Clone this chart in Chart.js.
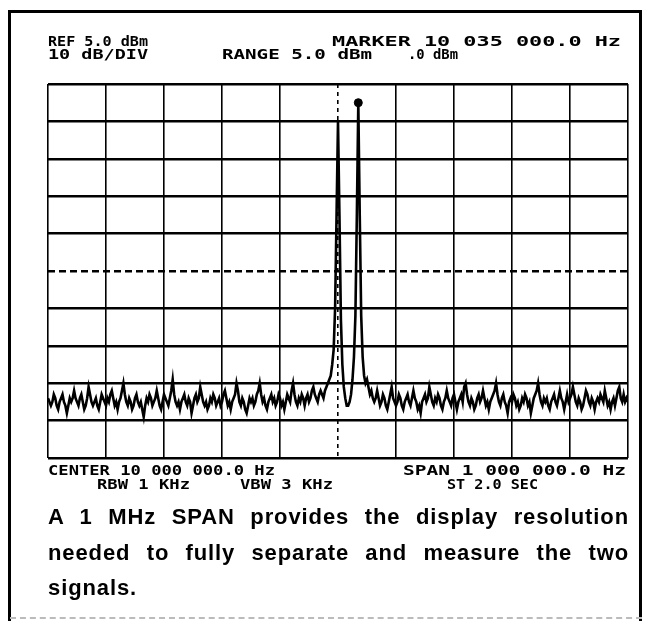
<!DOCTYPE html>
<html><head><meta charset="utf-8">
<script src="https://cdn.jsdelivr.net/npm/chart.js@4/dist/chart.umd.min.js"></script>
<style>
html,body{margin:0;padding:0;background:#fff;}
#wrap{position:relative;width:652px;height:621px;overflow:hidden;background:#fff;}
#frame{position:absolute;left:8px;top:10px;width:628px;height:640px;border-left:3px solid #000;border-top:3px solid #000;border-right:3px solid #000;}
#bottomline{position:absolute;left:10px;top:617px;width:632px;border-top:2px dashed #bbb;}
canvas{position:absolute;left:0;top:0;}
.lbl{position:absolute;font-family:"DejaVu Sans Mono";font-weight:bold;font-size:14px;line-height:14px;white-space:pre;transform-origin:0 0;color:#000;}
.cap{position:absolute;left:48px;width:581px;font-family:"Liberation Sans";font-weight:bold;font-size:22px;line-height:26px;letter-spacing:0.9px;color:#000;text-align:justify;text-align-last:justify;}
</style></head>
<body><div id="wrap">
<div id="frame"></div><div id="bottomline"></div>
<canvas id="c" width="652" height="621"></canvas>
<div class="lbl" data-w="100" style="left:48px;top:34px">REF 5.0 dBm</div>
<div class="lbl" data-w="100" style="left:48px;top:47px">10 dB/DIV</div>
<div class="lbl" data-w="289" style="left:332px;top:34px">MARKER 10 035 000.0 Hz</div>
<div class="lbl" data-w="150" style="left:222px;top:47px">RANGE 5.0 dBm</div>
<div class="lbl" data-w="50" style="left:408px;top:47px">.0 dBm</div>
<div class="lbl" data-w="227" style="left:48px;top:463px">CENTER 10 000 000.0 Hz</div>
<div class="lbl" data-w="223" style="left:403px;top:463px">SPAN 1 000 000.0 Hz</div>
<div class="lbl" data-w="93" style="left:97px;top:477px">RBW 1 KHz</div>
<div class="lbl" data-w="93" style="left:240px;top:477px">VBW 3 KHz</div>
<div class="lbl" data-w="91" style="left:447px;top:477px">ST 2.0 SEC</div>
<div class="cap" style="top:504px">A 1 MHz SPAN provides the display resolution</div>
<div class="cap" style="top:540px">needed to fully separate and measure the two</div>
<div class="cap" style="top:575px;text-align:left;text-align-last:left">signals.</div>
</div>
<script>
// ---- data ----
const startFreq = 9500000;
const stopFreq = 10500000;
const centerFreq = 10000000;
const freqGrid = [9500000,9600000,9700000,9800000,9900000,10000000,10100000,10200000,10300000,10400000,10500000];
const levelGrid = [-95,-85,-75,-65,-55,-45,-35,-25,-15,-5,5];
const midLevel = -45;
const markerFreq = 10035000;
const markerLevel = 0;
// 401 sweep points, dBm
const traceLevels = [
-79,-80,-81,-80,-78,-79,-81,-82,-80,-79,-78,-80,-81,-83,-81,-79,-80,-79,-77,-79,
-80,-81,-79,-78,-80,-82,-81,-79,-76,-78,-80,-81,-80,-79,-81,-82,-80,-78,-79,-80,
-81,-79,-80,-78,-77,-79,-81,-80,-82,-80,-79,-77,-75,-78,-80,-81,-79,-80,-82,-81,
-79,-78,-80,-81,-80,-82,-84,-81,-79,-80,-78,-79,-81,-80,-79,-77,-79,-81,-82,-80,
-78,-79,-80,-81,-79,-77,-74,-78,-80,-81,-80,-82,-80,-79,-78,-80,-81,-79,-80,-83,
-81,-79,-78,-80,-79,-76,-78,-80,-81,-80,-82,-81,-79,-80,-78,-79,-81,-80,-79,-81,
-80,-78,-77,-79,-81,-80,-82,-80,-79,-78,-75,-77,-80,-81,-79,-80,-82,-83,-81,-79,
-80,-79,-81,-80,-78,-77,-75,-78,-80,-79,-81,-82,-80,-79,-78,-80,-79,-81,-80,-78,
-79,-81,-80,-82,-80,-78,-79,-80,-77,-75,-78,-80,-81,-79,-80,-78,-79,-81,-79,-78,
-80,-79,-77,-76,-78,-79,-80,-78,-77,-78,
-79,-77,-76,-75,-74,-73,-70,-66,-55,-30,-5,-30,-58,-70,-76,-79,-81,-81,-80,-78,
-74,-68,-57,-30,0,-30,-57,-68,-73,-75,-74,-76,-78,-77,-79,
-80,-79,-77,-79,-81,-80,-78,-79,-81,-82,-80,-78,-76,-79,-80,-81,-80,-78,-79,-81,
-82,-80,-79,-78,-80,-81,-79,-77,-79,-80,-82,-81,-83,-80,-79,-78,-80,-79,-76,-78,
-80,-81,-79,-80,-78,-79,-81,-82,-80,-79,-77,-79,-80,-81,-79,-78,-80,-82,-80,-79,
-78,-80,-76,-75,-78,-80,-81,-79,-80,-82,-81,-79,-78,-80,-79,-77,-79,-81,-80,-82,
-80,-79,-78,-77,-75,-78,-80,-81,-79,-78,-80,-81,-83,-80,-79,-80,-78,-79,-81,-80,
-82,-81,-79,-80,-78,-79,-81,-80,-83,-81,-79,-78,-77,-75,-78,-80,-81,-79,-80,-79,
-81,-82,-80,-79,-78,-80,-81,-79,-77,-79,-80,-82,-80,-78,-80,-79,-78,-76,-78,-80,
-81,-79,-80,-82,-81,-79,-77,-78,-80,-81,-79,-80,-82,-80,-79,-80,-78,-79,-80,-77,
-79,-81,-80,-82,-80,-79,-81,-79,-77,-76,-79,-80,-78,-80,-79,-80
];
// ---- chart ----
const binHz = (stopFreq - startFreq) / (traceLevels.length - 1);
const trace = traceLevels.map((v, i) => ({x: startFreq + i * binHz, y: v}));
const clear = 'rgba(0,0,0,0)';
new Chart(document.getElementById('c'), {
  type: 'scatter',
  data: {datasets: [
    {data: trace, showLine: true, borderColor: '#000', borderWidth: 2.6, pointRadius: 0, tension: 0},
    {data: [{x: markerFreq, y: markerLevel}], pointRadius: 4, pointBackgroundColor: '#000', pointBorderColor: '#000', showLine: false}
  ]},
  options: {
    responsive: false, animation: false,
    layout: {padding: {left: 48, top: 84, right: 24, bottom: 163}},
    plugins: {legend: {display: false}, tooltip: {enabled: false}},
    scales: {
      x: {type: 'linear', min: startFreq, max: stopFreq,
          afterBuildTicks: a => { a.ticks = freqGrid.map(v => ({value: v})); },
          ticks: {display: false}, border: {display: false},
          grid: {drawTicks: false, lineWidth: 1.6, color: c => (c.tick && c.tick.value === centerFreq) ? clear : '#000'}},
      xc: {type: 'linear', position: 'bottom', min: startFreq, max: stopFreq,
          afterBuildTicks: a => { a.ticks = [{value: centerFreq}]; },
          ticks: {display: false}, border: {display: false, dash: [4, 4]},
          grid: {drawTicks: false, lineWidth: 1.6, color: '#000'}},
      y: {type: 'linear', min: levelGrid[0], max: levelGrid[levelGrid.length - 1],
          afterBuildTicks: a => { a.ticks = levelGrid.map(v => ({value: v})); },
          ticks: {display: false}, border: {display: false},
          grid: {drawTicks: false, lineWidth: 2.4, color: c => (c.tick && c.tick.value === midLevel) ? clear : '#000'}},
      yc: {type: 'linear', position: 'left', min: levelGrid[0], max: levelGrid[levelGrid.length - 1],
          afterBuildTicks: a => { a.ticks = [{value: midLevel}]; },
          ticks: {display: false}, border: {display: false, dash: [7, 4]},
          grid: {drawTicks: false, lineWidth: 2.4, color: '#000'}}
    }
  }
});
// fit instrument labels to their widths
document.querySelectorAll('.lbl').forEach(el => {
  const w = parseFloat(el.dataset.w);
  const a = el.getBoundingClientRect().width;
  el.style.transform = 'scaleX(' + (w / a) + ')';
});
</script>
</body></html>
